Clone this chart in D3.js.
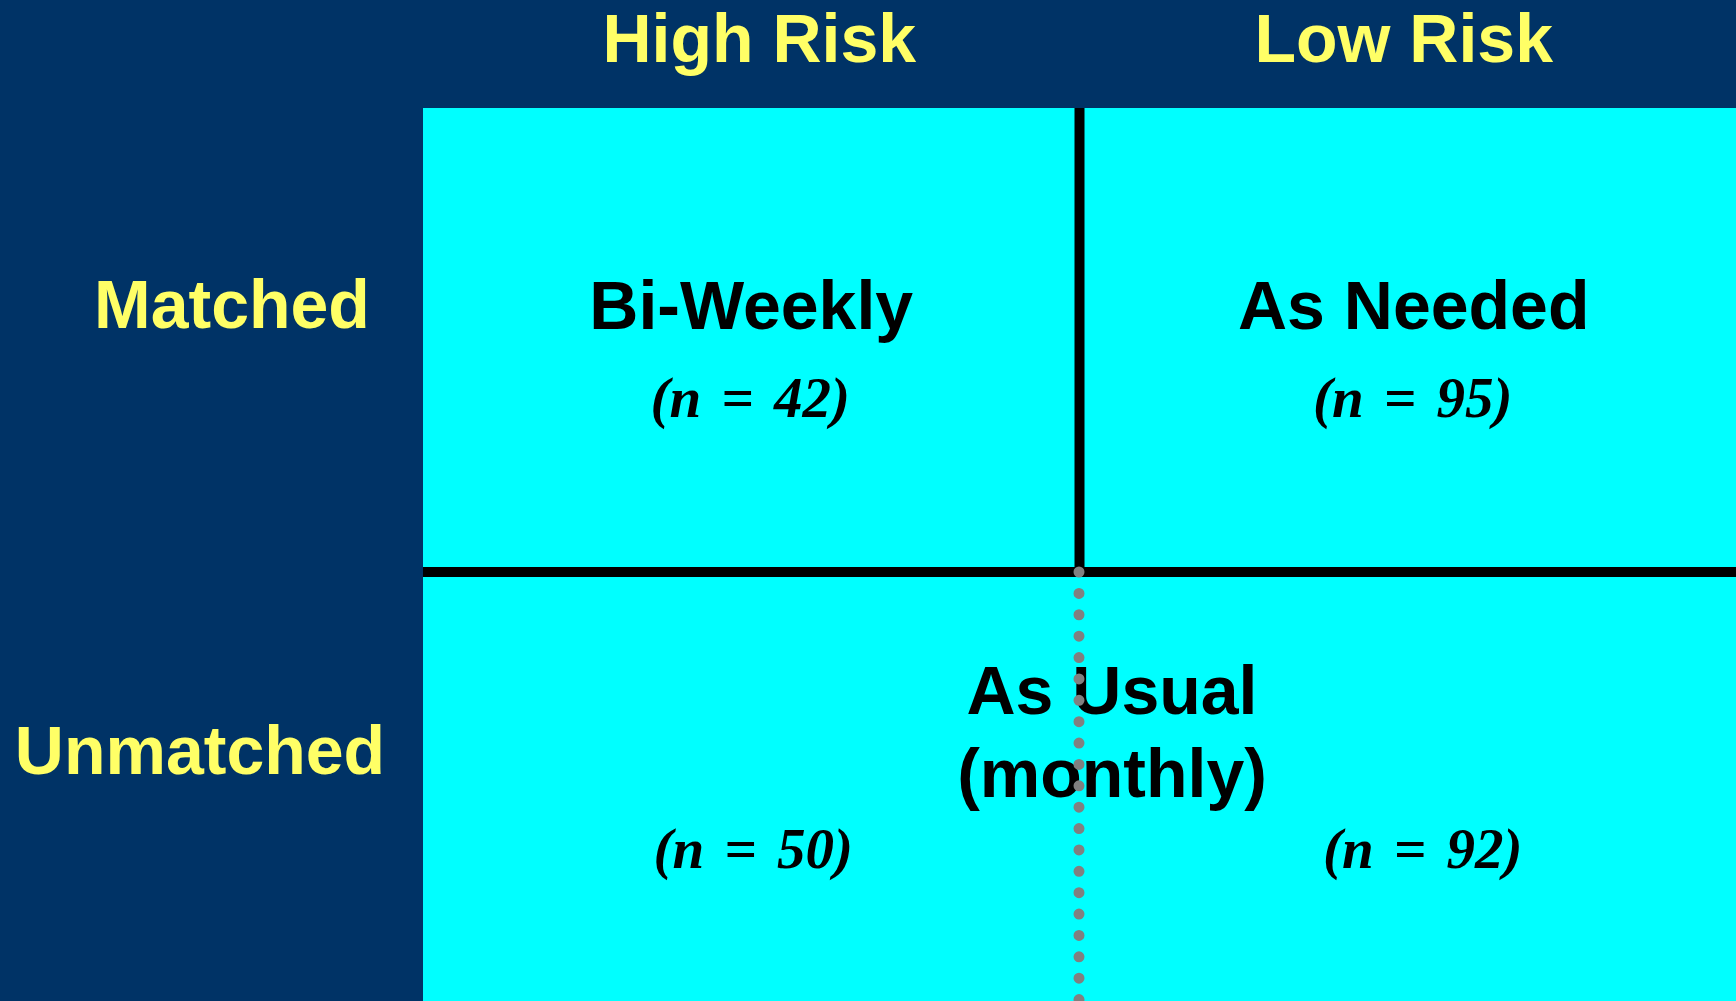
<!DOCTYPE html>
<html>
<head>
<meta charset="utf-8">
<script src="https://cdn.jsdelivr.net/npm/d3@7"></script>
<style>
html,body{margin:0;padding:0;background:#003366;overflow:hidden;}
svg{display:block;}
</style>
</head>
<body>
<svg id="chart" width="1736" height="1001"></svg>
<script>
// ---- data ----
const columns = ["High Risk", "Low Risk"];
const rows = ["Matched", "Unmatched"];
const matchedLabels = ["Bi-Weekly", "As Needed"];
const matchedN = [42, 95];
const unmatchedLabel = ["As Usual", "(monthly)"];
const unmatchedN = [50, 92];

// ---- layout ----
const W = 1736, H = 1001;
const gridLeft = 423, gridTop = 108, rowSplit = 572;
const navy = "#003366", cyan = "#00FFFF", yellow = "#FFFF66";
const sans = "'Liberation Sans', Arial, Helvetica, sans-serif";
const serif = "'Liberation Serif', 'Times New Roman', serif";

const svg = d3.select("#chart");
svg.append("rect").attr("width", W).attr("height", H).attr("fill", navy);

const x = d3.scaleBand().domain(columns).range([gridLeft, W]);

// cyan field
svg.append("rect")
  .attr("x", gridLeft).attr("y", gridTop)
  .attr("width", W - gridLeft).attr("height", H - gridTop)
  .attr("fill", cyan);

// column headers
svg.selectAll("text.col").data(columns).join("text")
  .attr("class", "col")
  .attr("x", (d, i) => x(d) + x.bandwidth() / 2 + (i === 0 ? 8 : -4))
  .attr("y", 62)
  .attr("text-anchor", "middle")
  .attr("font-family", sans).attr("font-weight", "bold").attr("font-size", 68)
  .attr("fill", yellow)
  .text(d => d);

// row headers
const rowLabelX = [232, 200];
const rowLabelY = [328, 774];
svg.selectAll("text.row").data(rows).join("text")
  .attr("class", "row")
  .attr("x", (d, i) => rowLabelX[i])
  .attr("y", (d, i) => rowLabelY[i])
  .attr("text-anchor", "middle")
  .attr("font-family", sans).attr("font-weight", "bold").attr("font-size", 68)
  .attr("fill", yellow)
  .text(d => d);

// matched row cell titles
const titleDx = [0, 6];
svg.selectAll("text.mtitle").data(matchedLabels).join("text")
  .attr("class", "mtitle")
  .attr("x", (d, i) => x(columns[i]) + x.bandwidth() / 2 + titleDx[i])
  .attr("y", 329)
  .attr("text-anchor", "middle")
  .attr("font-family", sans).attr("font-weight", "bold").attr("font-size", 68)
  .attr("fill", "#000")
  .text(d => d);

function nText(sel, vals, yPos, dxs) {
  const t = sel.selectAll(null).data(vals).join("text")
    .attr("x", (d, i) => x(columns[i]) + x.bandwidth() / 2 + dxs[i])
    .attr("y", yPos)
    .attr("text-anchor", "middle")
    .attr("font-family", serif).attr("font-weight", "bold").attr("font-style", "italic")
    .attr("font-size", 57)
    .attr("word-spacing", 6)
    .attr("fill", "#000");
  t.each(function(d) {
    const el = d3.select(this);
    el.append("tspan").text("(");
    el.append("tspan").text("n");
    el.append("tspan").text(" = " + d + ")");
  });
}
nText(svg, matchedN, 417, [-1, 5]);
nText(svg, unmatchedN, 868, [2, 15]);

// unmatched merged title
svg.selectAll("text.utitle").data(unmatchedLabel).join("text")
  .attr("class", "utitle")
  .attr("x", 1112)
  .attr("y", (d, i) => 714 + i * 83)
  .attr("text-anchor", "middle")
  .attr("font-family", sans).attr("font-weight", "bold").attr("font-size", 68)
  .attr("fill", "#000")
  .text(d => d);

// divider lines
const divX = x(columns[1]);
svg.append("line")
  .attr("x1", divX).attr("x2", divX)
  .attr("y1", gridTop).attr("y2", rowSplit)
  .attr("stroke", "#000").attr("stroke-width", 10);
svg.append("line")
  .attr("x1", gridLeft).attr("x2", W)
  .attr("y1", rowSplit).attr("y2", rowSplit)
  .attr("stroke", "#000").attr("stroke-width", 10);

// dotted divider in unmatched row
svg.append("line")
  .attr("x1", divX - 0.5).attr("x2", divX - 0.5)
  .attr("y1", rowSplit).attr("y2", H + 10)
  .attr("stroke", "#808080").attr("stroke-width", 11)
  .attr("stroke-linecap", "round")
  .attr("stroke-dasharray", "0 21.38");
</script>
</body>
</html>
